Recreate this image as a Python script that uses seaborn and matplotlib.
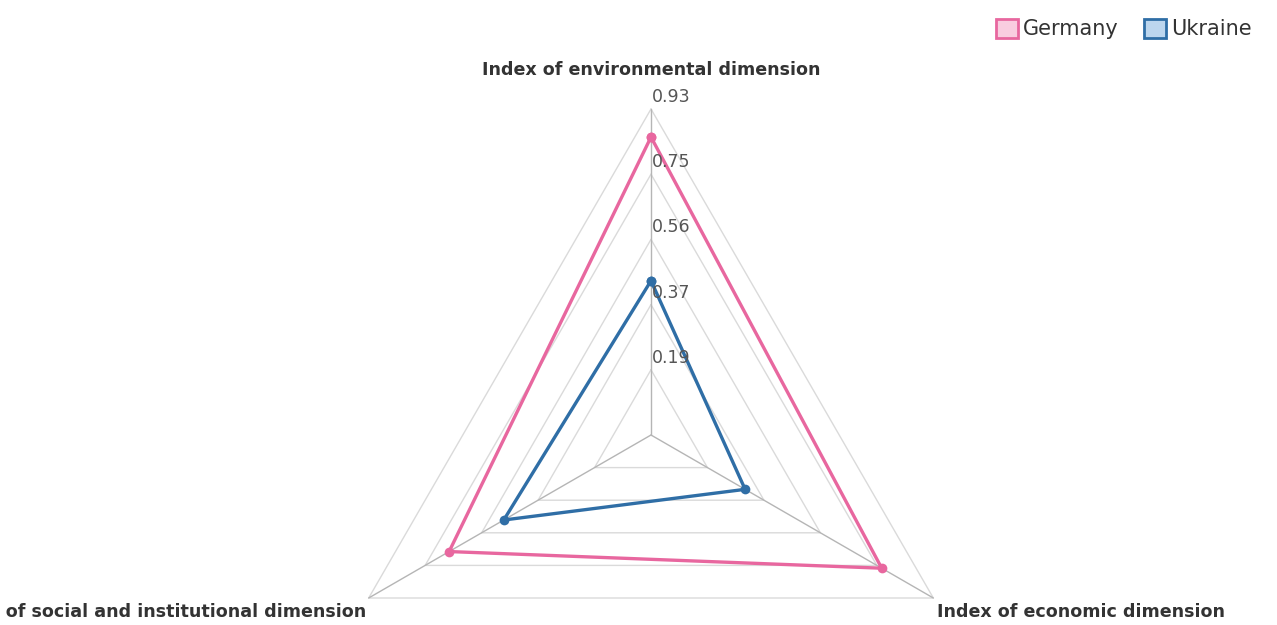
import numpy as np
import pandas as pd
import matplotlib
matplotlib.use("Agg")
import matplotlib.pyplot as plt
from matplotlib.patches import Patch
import seaborn as sns

# Sustainability dimension indices
dimensions = ["Index of environmental dimension",
              "Index of economic dimension",
              "Index of social and institutional dimension"]
germany = [0.85, 0.76, 0.665]
ukraine = [0.44, 0.31, 0.485]
countries = ["Germany", "Ukraine"]
line_colors = ["#e8679f", "#2f6ea6"]
fill_colors = ["#f9cde0", "#bcd6ee"]

# Radial scale
r_max = 0.93
levels = [0.186, 0.372, 0.558, 0.744, 0.93]
level_labels = ["0.19", "0.37", "0.56", "0.75", "0.93"]

sns.set_theme(style="white")
plt.rcParams["font.family"] = ["DejaVu Sans"]

W, H = 1277, 625
fig = plt.figure(figsize=(W / 100, H / 100), dpi=100)
cx, cy, R = 651, 435, 326
ax = fig.add_axes([(cx - R) / W, (H - cy - R) / H, 2 * R / W, 2 * R / H],
                  projection="polar")
ax.set_theta_offset(np.pi / 2)
ax.set_theta_direction(-1)
ax.set_ylim(0, r_max)
ax.grid(False)
ax.set_xticks([])
ax.set_yticks([])
ax.spines["polar"].set_visible(False)
ax.patch.set_alpha(0)

n = len(dimensions)
angles = [2 * np.pi * i / n for i in range(n)]
closed = angles + [angles[0]]

# Triangular grid rings and spokes
for lv in levels:
    ax.plot(closed, [lv] * (n + 1), color="#dadada", lw=1.0, zorder=1, clip_on=False)
for a in angles:
    ax.plot([a, a], [0, r_max], color="#b5b5b5", lw=1.0, zorder=1, clip_on=False)

# Series drawn through seaborn
rows = []
for name, vals in zip(countries, [germany, ukraine]):
    for i, (a, v) in enumerate(zip(closed, vals + [vals[0]])):
        rows.append({"country": name, "theta": a, "value": v, "order": i})
df = pd.DataFrame(rows)
sns.lineplot(data=df, x="theta", y="value", hue="country", units="country",
             palette=dict(zip(countries, line_colors)), sort=False, estimator=None,
             marker="o", markersize=7, markeredgewidth=0, linewidth=2.4,
             legend=False, ax=ax, zorder=3, clip_on=False)
ax.set_xlabel("")
ax.set_ylabel("")

# Radial value labels along the top spoke
for lv, lab in zip(levels, level_labels):
    ax.annotate(lab, xy=(0, lv), xytext=(1, 12), textcoords="offset pixels",
                ha="left", va="center", fontsize=12.5, color="#555555",
                annotation_clip=False, zorder=4)

# Dimension labels
label_style = dict(fontsize=12.6, fontweight="bold", color="#333333",
                   annotation_clip=False)
ax.annotate(dimensions[0], xy=(angles[0], r_max), xytext=(0, 39),
            textcoords="offset pixels", ha="center", va="center", **label_style)
ax.annotate(dimensions[1], xy=(angles[1], r_max), xytext=(4, -14),
            textcoords="offset pixels", ha="left", va="center", **label_style)
ax.annotate(dimensions[2], xy=(angles[2], r_max), xytext=(-2, -14),
            textcoords="offset pixels", ha="right", va="center", **label_style)

handles = [Patch(facecolor=f, edgecolor=c, linewidth=2, label=l)
           for l, c, f in zip(countries, line_colors, fill_colors)]
fig.legend(handles=handles, loc="upper right", bbox_to_anchor=(1266 / W, 1 - 4 / H),
           ncol=2, frameon=False, fontsize=15, handlelength=1.05, handleheight=1.05,
           handletextpad=0.25, columnspacing=1.2, labelcolor="#333333", borderpad=0.2)

fig.savefig("out.png", dpi=100)
